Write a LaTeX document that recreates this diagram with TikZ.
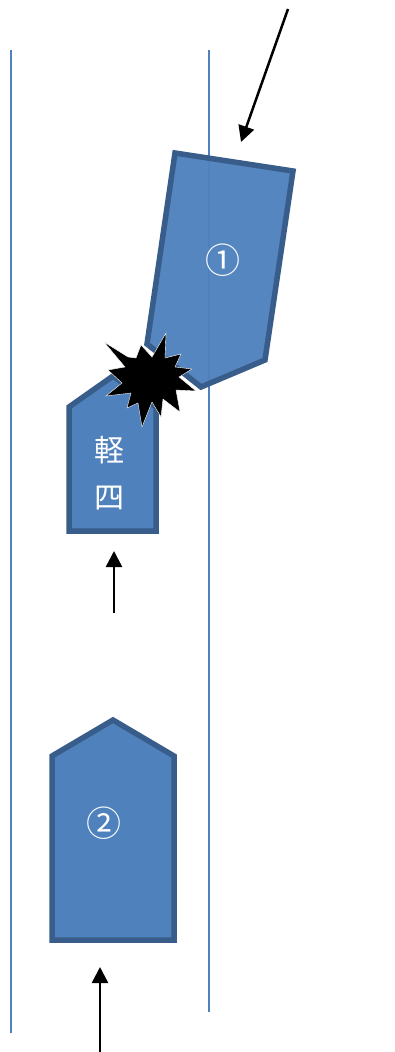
\documentclass[tikz,border=0pt]{standalone}
\usepackage{fontspec}
\newfontfamily\cjk{Noto Sans CJK JP}
\usetikzlibrary{arrows.meta}
\definecolor{carfill}{HTML}{4F81BD}
\definecolor{carline}{HTML}{385D8A}
\tikzset{
  car/.style={draw=carline, fill=carfill, line width=5.5pt, miter limit=10},
  road/.style={draw=carfill, line width=1.8pt},
  move/.style={draw=black, line width=2.5pt, -{Triangle[length=16pt,width=16pt]}},
  cartext/.style={text=white, font=\cjk\fontsize{30}{30}\selectfont, inner sep=0pt},
  circtext/.style={text=white, font=\cjk\fontsize{35}{35}\selectfont, inner sep=0pt}
}
\begin{document}
\begin{tikzpicture}[x=1pt, y=-1pt]
\useasboundingbox (0,0) rectangle (394,1052);

\coordinate (l1) at (11, 50);
\coordinate (l2) at (11, 1033);
\coordinate (r1) at (209, 50);
\coordinate (r2) at (209, 1012);

\coordinate (a1) at (288, 9);
\coordinate (a2) at (241, 142);
\coordinate (b1) at (114, 613);
\coordinate (b2) at (114, 551);
\coordinate (c1) at (100, 1052);
\coordinate (c2) at (100, 967);

\draw[road] (l1) -- (l2);
\draw[road] (r1) -- (r2);

% cars
\draw[car, fill opacity=0.96] (175,153) -- (293,171) -- (265,360) -- (201,387) -- (147,344) -- cycle;
\draw[car] (69,531) -- (156,531) -- (156,407) -- (113,376) -- (69,407) -- cycle;
\draw[car] (52,940) -- (174,940) -- (174,756) -- (113,720) -- (52,756) -- cycle;

% crash mark
\fill[black, draw=white, line width=0.4pt] (104,342) -- (128,357) -- (136,358) -- (141,345) -- (152,357) -- (166,333)
  -- (165,358) -- (181,354) -- (175,367) -- (192,369) -- (179,377) -- (196,391) -- (176,390) -- (180,412)
  -- (163,399) -- (161,417) -- (152,402) -- (142,427) -- (138,403) -- (127,408) -- (131,393) -- (106,396)
  -- (122,383) -- (108,370) -- (125,367) -- cycle;

\node[circtext] (n1) at (223, 260) {①};
\node[circtext] (n2) at (104, 823) {②};
\node[cartext] (n3) at (109, 450) {軽};
\node[cartext] (n4) at (109, 498) {四};

\draw[move] (a1) -- (a2);
\draw[move] (b1) -- (b2);
\draw[move] (c1) -- (c2);

\end{tikzpicture}
\end{document}
